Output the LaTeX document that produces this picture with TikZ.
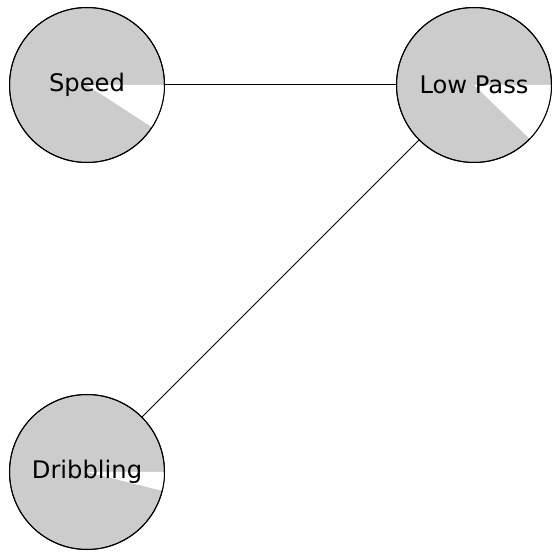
\documentclass[tikz,border=0pt]{standalone}
\usepackage{fontspec}
\setmainfont{DejaVu Sans}
\definecolor{piegray}{HTML}{CCCCCC}
\begin{document}
\begin{tikzpicture}[x=1pt,y=1pt,
  player/.style={circle, draw=black, line width=1pt, fill=piegray, minimum size=155pt, inner sep=0pt,
    font=\fontsize{24.2}{27}\selectfont},
  edge/.style={draw=black, line width=1pt}]
\useasboundingbox (0,0) rectangle (560,560);
\node[player] (speed) at (87,475) {};
\node[player] (lowpass) at (474,475) {};
\node[player] (dribbling) at (87,88) {};
\fill[white] (speed.center) -- ++(0:77.5) arc[start angle=0, end angle=-33, radius=77.5] -- cycle;
\fill[white] (lowpass.center) -- ++(0:77.5) arc[start angle=0, end angle=-44, radius=77.5] -- cycle;
\fill[white] (dribbling.center) -- ++(0:77.5) arc[start angle=0, end angle=-14, radius=77.5] -- cycle;
\node[player, fill=none] (speedb) at (speed.center) {Speed};
\node[player, fill=none] (lowpassb) at (lowpass.center) {Low Pass};
\node[player, fill=none] (dribblingb) at (dribbling.center) {Dribbling};
\draw[edge] (speedb) -- (lowpassb);
\draw[edge] (lowpassb) -- (dribblingb);
\end{tikzpicture}
\end{document}
